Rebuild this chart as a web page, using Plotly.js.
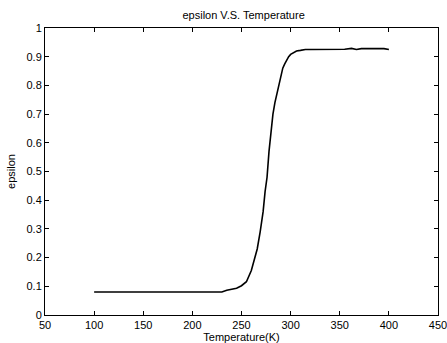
<!DOCTYPE html>
<html>
<head>
<meta charset="utf-8">
<script src="https://cdn.plot.ly/plotly-3.0.1.min.js"></script>
<style>html,body{margin:0;padding:0;background:#fff;}#chart{width:447px;height:343px;}</style>
</head>
<body>
<div id="chart"></div>
<script>
var temperature = [100,110,120,130,140,150,160,170,180,190,200,210,220,230,235,240,245,250,255,260,263,266,269,272,274,276,278,280,282,284,286,288,290,292,294,296,298,300,303,306,310,315,320,340,355,362,367,372,385,395,400];
var epsilon = [0.08,0.08,0.08,0.08,0.08,0.08,0.08,0.08,0.08,0.08,0.08,0.08,0.08,0.08,0.086,0.089,0.093,0.102,0.116,0.155,0.19,0.23,0.29,0.36,0.43,0.48,0.57,0.64,0.70,0.74,0.77,0.81,0.84,0.86,0.875,0.89,0.90,0.908,0.915,0.92,0.922,0.925,0.925,0.925,0.926,0.929,0.925,0.928,0.929,0.928,0.925];
var xTicks = [50,100,150,200,250,300,350,400,450];
var yTicks = [0,0.1,0.2,0.3,0.4,0.5,0.6,0.7,0.8,0.9,1];

var font = {family: 'Liberation Sans, Arial, sans-serif', size: 11, color: '#000'};
Plotly.newPlot('chart', [{
  x: temperature, y: epsilon, type: 'scatter', mode: 'lines',
  line: {color: '#000', width: 1.6}, hoverinfo: 'none'
}], {
  width: 447, height: 343,
  margin: {l: 45, r: 9, t: 28, b: 28, pad: 0},
  paper_bgcolor: '#fff', plot_bgcolor: '#fff',
  font: font,
  showlegend: false,
  title: {text: 'epsilon V.S. Temperature', font: {family: font.family, size: 11, color: '#000'}, x: 0.545, xanchor: 'center', y: 0.955, yanchor: 'middle'},
  xaxis: {
    range: [50, 450], tickvals: xTicks, ticktext: xTicks.map(String),
    ticks: 'inside', ticklen: 4, tickwidth: 1, tickcolor: '#000',
    showline: true, linecolor: '#000', linewidth: 1, mirror: 'ticks',
    showgrid: false, zeroline: false, automargin: false,
    ticklabeloverflow: 'allow',
    tickfont: font,
    title: {text: 'Temperature(K)', font: font, standoff: 2}
  },
  yaxis: {
    range: [0, 1], tickvals: yTicks, ticktext: yTicks.map(String),
    ticks: 'inside', ticklen: 4, tickwidth: 1, tickcolor: '#000',
    showline: true, linecolor: '#000', linewidth: 1, mirror: 'ticks',
    showgrid: false, zeroline: false, automargin: false,
    ticklabeloverflow: 'allow',
    tickfont: font,
    title: {text: 'epsilon', font: font, standoff: 8}
  }
}, {displayModeBar: false, staticPlot: true});
</script>
</body>
</html>
